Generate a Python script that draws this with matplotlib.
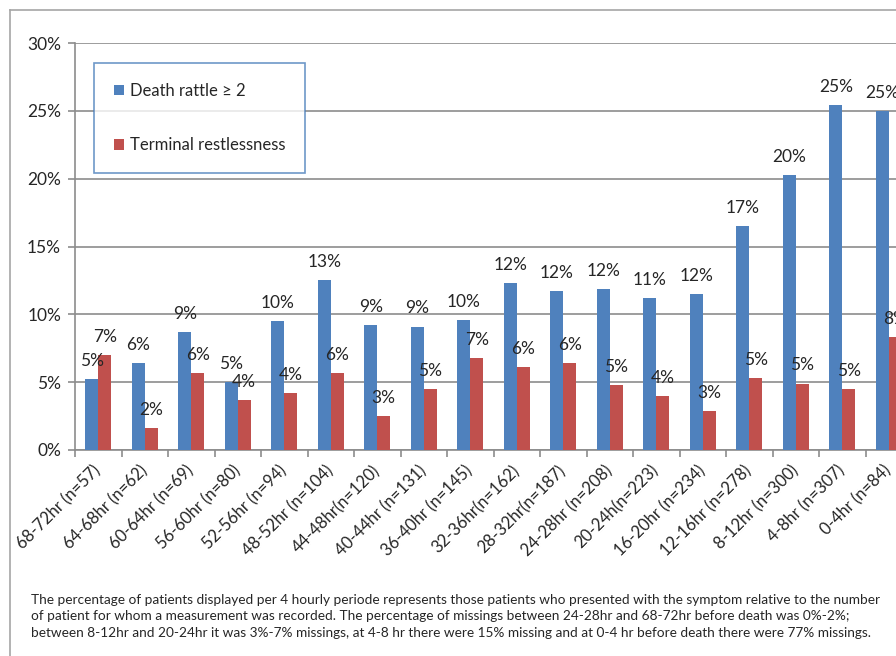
import numpy as np
import matplotlib.pyplot as plt
from matplotlib.lines import Line2D

# =============================
#      DATOS
# =============================
categorias = ["68-72hr (n=57)", "64-68hr (n=62)", "60-64hr (n=69)", "56-60hr (n=80)",
              "52-56hr (n=94)", "48-52hr (n=104)", "44-48hr(n=120)", "40-44hr (n=131)",
              "36-40hr (n=145)", "32-36hr(n=162)", "28-32hr(n=187)", "24-28hr (n=208)",
              "20-24h(n=223)", "16-20hr (n=234)", "12-16hr (n=278)", "8-12hr (n=300)",
              "4-8hr (n=307)", "0-4hr (n=84)"]

death_rattle = [5.2, 6.4, 8.7, 5.0, 9.5, 12.5, 9.2, 9.1, 9.6, 12.3, 11.7, 11.9,
                11.2, 11.5, 16.5, 20.3, 25.4, 25.0]
restlessness = [7.0, 1.6, 5.7, 3.7, 4.2, 5.7, 2.5, 4.5, 6.8, 6.1, 6.4, 4.8,
                4.0, 2.9, 5.3, 4.9, 4.5, 8.3]

etiq_death = ["5%", "6%", "9%", "5%", "10%", "13%", "9%", "9%", "10%", "12%", "12%", "12%",
              "11%", "12%", "17%", "20%", "25%", "25%"]
etiq_rest = ["7%", "2%", "6%", "4%", "4%", "6%", "3%", "5%", "7%", "6%", "6%", "5%",
             "4%", "3%", "5%", "5%", "5%", "8%"]

nota = ("The percentage of patients displayed per 4 hourly periode represents those patients who presented with the symptom relative to the number\n"
        "of patient for whom a measurement was recorded. The percentage of missings between 24-28hr and 68-72hr before death was 0%-2%;\n"
        "between 8-12hr and 20-24hr it was 3%-7% missings, at 4-8 hr there were 15% missing and at 0-4 hr before death there were 77% missings.")

# =============================
#      GRAFICO
# =============================
plt.rcParams['font.family'] = ['Lato', 'DejaVu Sans']

AZUL = "#4F81BD"
ROJO = "#C0504D"
GRIS = "#8C8C8C"
TEXTO = "#262626"

fig = plt.figure(figsize=(8.96, 6.56), dpi=100)
ax = fig.add_axes([75/896, 1 - 450/656, 837/896, 407/656])

x = np.arange(len(categorias))
ancho = 0.28
ax.bar(x - ancho/2, death_rattle, ancho, color=AZUL, label="Death rattle \u2265 2", zorder=3)
ax.bar(x + ancho/2, restlessness, ancho, color=ROJO, label="Terminal restlessness", zorder=3)

# etiquetas de datos
for xi, v, t in zip(x, death_rattle, etiq_death):
    ax.annotate(t, (xi - ancho/2, v), xytext=(0, 13), textcoords="offset points",
                ha="center", va="center", fontsize=12.5, color=TEXTO, zorder=4)
for xi, v, t in zip(x, restlessness, etiq_rest):
    ax.annotate(t, (xi + ancho/2, v), xytext=(0, 13), textcoords="offset points",
                ha="center", va="center", fontsize=12.5, color=TEXTO, zorder=4)

ax.set_xlim(-0.5, len(categorias) - 0.5)
ax.set_ylim(0, 30)
ax.set_yticks(np.arange(0, 31, 5))
ax.set_yticklabels([f"{v}%" for v in range(0, 31, 5)], fontsize=12.5, color=TEXTO)
ax.yaxis.grid(True, color=GRIS, linewidth=1.2, zorder=0)

ax.set_xticks(x)
ax.set_xticklabels(categorias, rotation=45, ha="right", va="center",
                   rotation_mode="anchor", fontsize=12, color=TEXTO)
ax.tick_params(axis="x", which="major", length=0, pad=13)
ax.set_xticks(np.arange(-0.5, len(categorias), 1), minor=True)
ax.tick_params(axis="x", which="minor", length=5, color=GRIS, width=1.2)
ax.tick_params(axis="y", length=5, color=GRIS, width=1.2, pad=5)

for lado in ["top", "right"]:
    ax.spines[lado].set_visible(False)
for lado in ["left", "bottom"]:
    ax.spines[lado].set_color(GRIS)
    ax.spines[lado].set_linewidth(1.2)

leg = ax.legend(loc="upper left", bbox_to_anchor=(19/837, 1 - 20/407), fontsize=12,
                frameon=True, fancybox=False, handlelength=0.6, handleheight=0.6,
                handletextpad=0.35, labelspacing=2.3, borderpad=1.2, borderaxespad=0)
leg.get_frame().set_edgecolor("#4A7EBB")
leg.get_frame().set_linewidth(1.2)
for t in leg.get_texts():
    t.set_color(TEXTO)

# nota al pie
fig.text(31/896, 1 - 594/656, nota, fontsize=9.85, color=TEXTO, va="top", ha="left",
         linespacing=1.45)

# marco exterior
fig.add_artist(Line2D([10/896, 1], [1 - 10/656] * 2, color="#A6A6A6", linewidth=1.2,
                      transform=fig.transFigure))
fig.add_artist(Line2D([10/896] * 2, [0, 1 - 10/656], color="#A6A6A6", linewidth=1.2,
                      transform=fig.transFigure))

fig.savefig("out.png", dpi=100)
